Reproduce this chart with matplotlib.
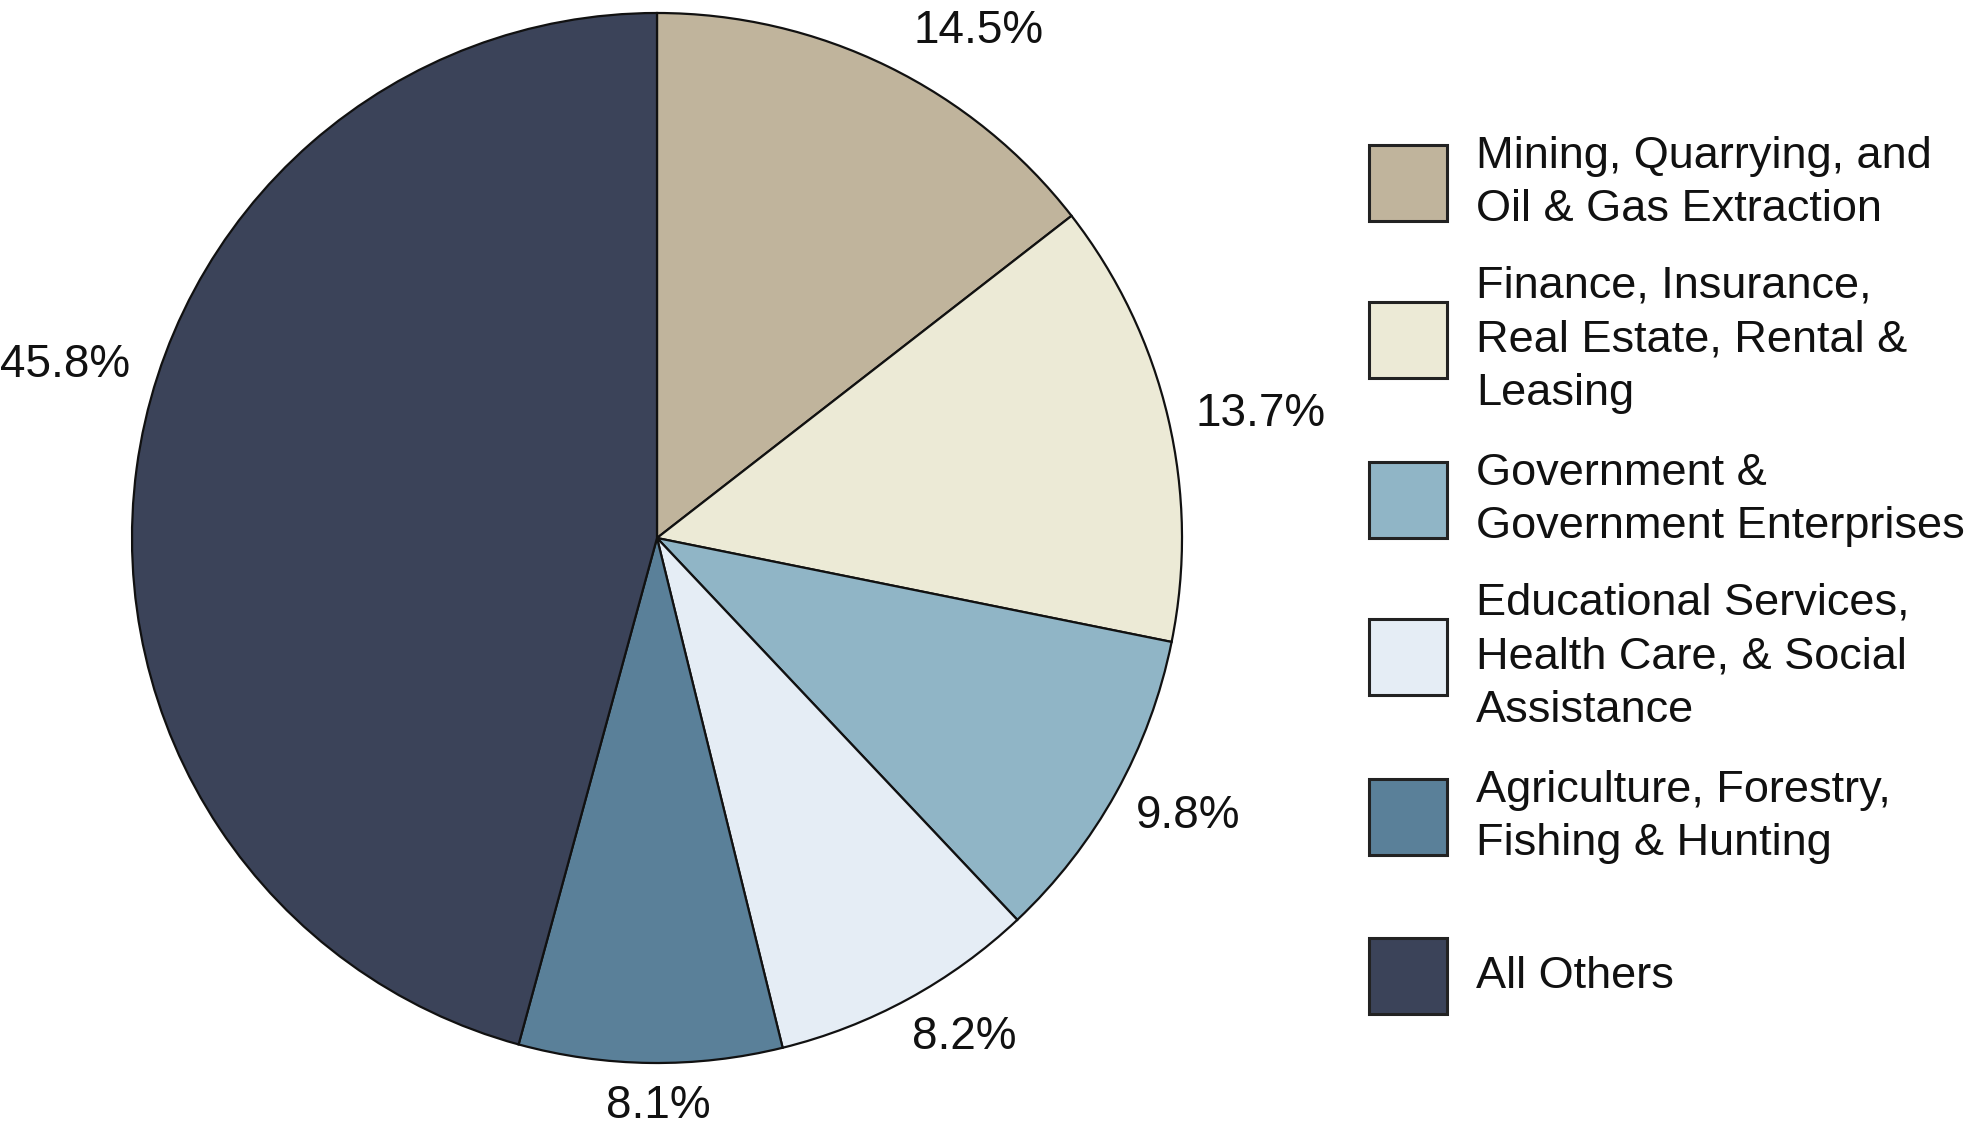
import matplotlib
matplotlib.use("Agg")
from matplotlib import pyplot as plt
from matplotlib.patches import Rectangle

plt.rcParams['font.family'] = ['Liberation Sans', 'DejaVu Sans']

# data
categories = [
    "Mining, Quarrying, and\nOil & Gas Extraction",
    "Finance, Insurance,\nReal Estate, Rental &\nLeasing",
    "Government &\nGovernment Enterprises",
    "Educational Services,\nHealth Care, & Social\nAssistance",
    "Agriculture, Forestry,\nFishing & Hunting",
    "All Others",
]
shares = [14.5, 13.7, 9.8, 8.2, 8.1, 45.8]
pct_labels = ["14.5%", "13.7%", "9.8%", "8.2%", "8.1%", "45.8%"]
colors = ["#C0B49C", "#ECEAD6", "#90B5C6", "#E5EDF5", "#5A8099", "#3B4359"]

# label placement (pie radius units) as in the original
label_pos = [(0.613, 0.966), (1.149, 0.236), (1.011, -0.530),
             (0.585, -0.950), (0.002, -1.082), (-1.128, 0.330)]

W, H = 1969, 1137
fig = plt.figure(figsize=(W / 100, H / 100), dpi=100)

# pie axes sized to the pie's bounding box
cx, cy, r = 657, 538, 525
ax = fig.add_axes([(cx - r) / W, 1 - (cy + r) / H, 2 * r / W, 2 * r / H])
wedges, texts, autotexts = ax.pie(
    shares, colors=colors, startangle=90, counterclock=False,
    autopct='%1.1f%%', pctdistance=1.14,
    wedgeprops=dict(edgecolor='#111111', linewidth=1.6),
    textprops=dict(fontsize=33, color='#111111'))
for t, lab, pos in zip(autotexts, pct_labels, label_pos):
    t.set_text(lab)
    t.set_position(pos)
    t.set_clip_on(False)
ax.set_xlim(-1, 1)
ax.set_ylim(-1, 1)
ax.set_aspect('auto')
ax.axis('off')

# legend drawn in pixel coords
lax = fig.add_axes([0, 0, 1, 1])
lax.set_xlim(0, W)
lax.set_ylim(H, 0)
lax.axis('off')
box_centers = [183, 340, 500, 657, 817, 976]
for c, yc, col in zip(categories, box_centers, colors):
    lax.add_patch(Rectangle((1369, yc - 38), 78, 76, facecolor=col,
                            edgecolor='#222222', linewidth=2.2))
    lax.text(1476, yc, c, fontsize=32.5, va='center', ha='left',
             color='#111111', linespacing=1.4)

fig.savefig("out.png", dpi=100)
